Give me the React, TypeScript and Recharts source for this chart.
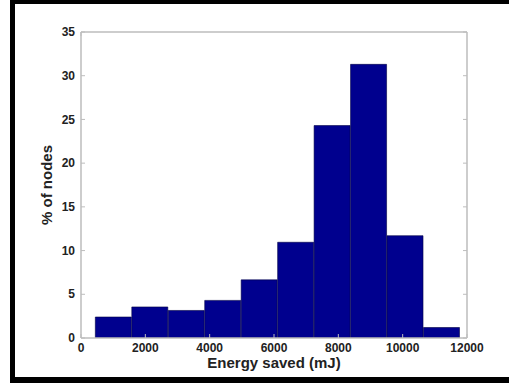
import { BarChart, Bar, XAxis, YAxis, Label } from 'recharts';

// histogram bins (centre of each bin, mJ) and share of nodes in each (%)
const binCenters = [1012, 2146, 3279, 4413, 5546, 6680, 7813, 8947, 10080, 11214];
const percentNodes = [2.4, 3.55, 3.15, 4.3, 6.65, 10.95, 24.3, 31.3, 11.7, 1.2];

const xTicks = [0, 2000, 4000, 6000, 8000, 10000, 12000];
const yTicks = [0, 5, 10, 15, 20, 25, 30, 35];

const data = binCenters.map((energy, i) => ({ energy, pct: percentNodes[i] }));

const FONT = '"Liberation Sans", Arial, Helvetica, sans-serif';
const BOX = '#bdbdbd';
const TICK_LEN = 4;

const labelStyle = { fontFamily: FONT, fontWeight: 700, fontSize: 12, fill: '#222' };

const LeftTick = ({ x, y, payload }: any) => (
  <g>
    <line x1={x} x2={x + TICK_LEN} y1={y} y2={y} stroke={BOX} />
    <text x={x - 6} y={y} dy="0.35em" textAnchor="end" style={labelStyle}>
      {payload.value}
    </text>
  </g>
);

const BottomTick = ({ x, y, payload }: any) => (
  <g>
    <line x1={x} x2={x} y1={y} y2={y - TICK_LEN} stroke={BOX} />
    <text x={x} y={y + 5} dy="0.71em" textAnchor="middle" style={labelStyle}>
      {payload.value}
    </text>
  </g>
);

const TopTick = ({ x, y }: any) => (
  <line x1={x} x2={x} y1={y} y2={y + TICK_LEN} stroke={BOX} />
);

const RightTick = ({ x, y }: any) => (
  <line x1={x} x2={x - TICK_LEN} y1={y} y2={y} stroke={BOX} />
);

const titleStyle = { fontFamily: FONT, fontWeight: 700, fontSize: 15, fill: '#222' };

const axisLine = { stroke: BOX, strokeWidth: 1.5 };

export default function App() {
  return (
    <div style={{ position: 'absolute', left: 0, top: 0, width: 509, height: 383, background: '#fff' }}>
      <div
        style={{
          position: 'absolute',
          left: 10,
          top: 0,
          width: 499,
          height: 383,
          boxSizing: 'border-box',
          borderTop: '4px solid #000',
          borderLeft: '5px solid #000',
          borderBottom: '6px solid #000',
        }}
      />
      <div style={{ position: 'absolute', left: 0, top: 0 }}>
        <BarChart
          width={509}
          height={383}
          data={data}
          margin={{ top: 31, right: 41, bottom: 44, left: 80 }}
          barCategoryGap={0}
          barGap={0}
        >
          <XAxis
            dataKey="energy"
            type="number"
            domain={[0, 12000]}
            ticks={xTicks}
            allowDataOverflow
            height={1}
            tickSize={0}
            tickMargin={0}
            tickLine={false}
            axisLine={axisLine}
            tick={<BottomTick />}
            interval={0}
          >
            <Label
              content={({ viewBox }: any) => (
                <text
                  x={viewBox.x + viewBox.width / 2}
                  y={viewBox.y + 30}
                  textAnchor="middle"
                  style={titleStyle}
                >
                  Energy saved (mJ)
                </text>
              )}
            />
          </XAxis>
          <XAxis
            xAxisId="top"
            orientation="top"
            type="number"
            domain={[0, 12000]}
            ticks={xTicks}
            allowDataOverflow
            height={1}
            tickSize={0}
            tickMargin={0}
            tickLine={false}
            axisLine={axisLine}
            tick={<TopTick />}
            interval={0}
          />
          <YAxis
            type="number"
            domain={[0, 35]}
            ticks={yTicks}
            allowDataOverflow
            width={1}
            tickSize={0}
            tickMargin={0}
            tickLine={false}
            axisLine={axisLine}
            tick={<LeftTick />}
            interval={0}
          >
            <Label
              content={({ viewBox }: any) => {
                const cx = viewBox.x + viewBox.width - 34;
                const cy = viewBox.y + viewBox.height / 2;
                return (
                  <text
                    x={cx}
                    y={cy}
                    dy="0.35em"
                    textAnchor="middle"
                    transform={`rotate(-90 ${cx} ${cy})`}
                    style={titleStyle}
                  >
                    % of nodes
                  </text>
                );
              }}
            />
          </YAxis>
          <YAxis
            yAxisId="right"
            orientation="right"
            type="number"
            domain={[0, 35]}
            ticks={yTicks}
            allowDataOverflow
            width={1}
            tickSize={0}
            tickMargin={0}
            tickLine={false}
            axisLine={axisLine}
            tick={<RightTick />}
            interval={0}
          />
          <Bar
            dataKey="pct"
            fill="#00008e"
            stroke="#000045"
            strokeWidth={0.6}
            isAnimationActive={false}
          />
        </BarChart>
      </div>
    </div>
  );
}
